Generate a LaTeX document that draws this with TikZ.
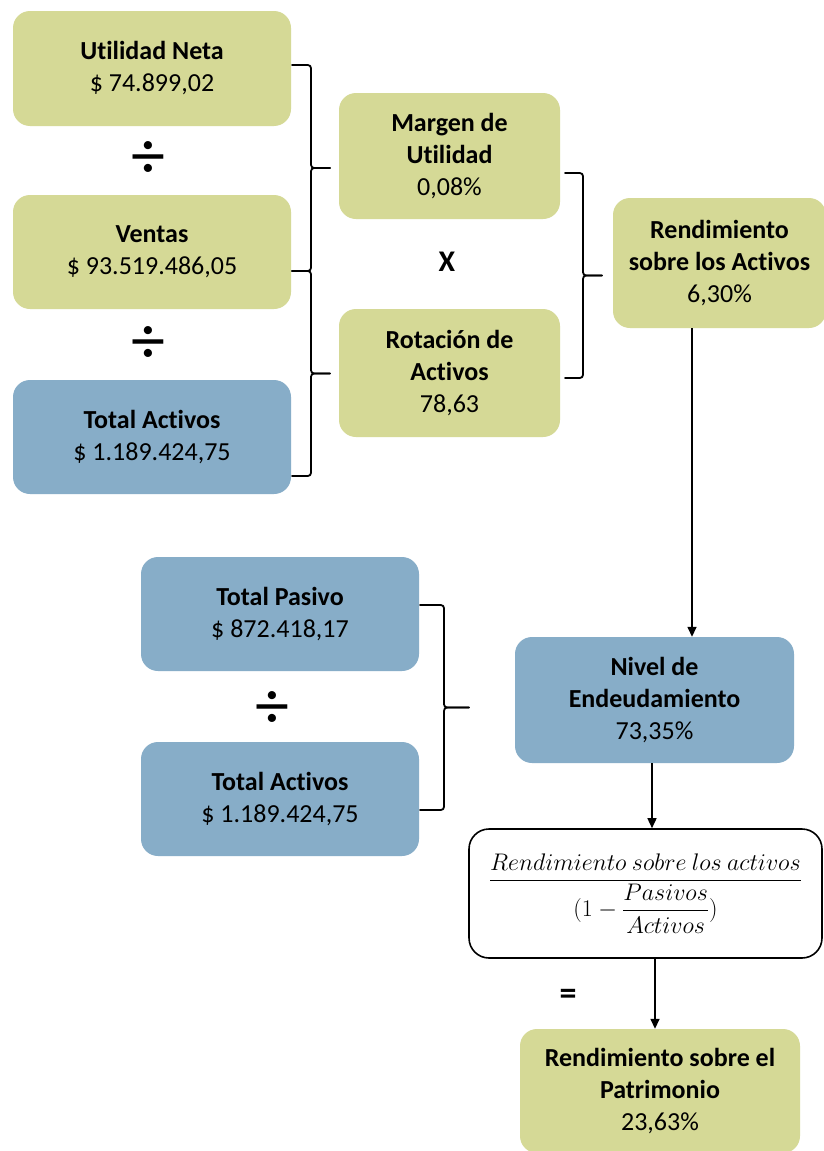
\documentclass[tikz,border=0pt]{standalone}
\usepackage{fix-cm}
\usepackage{amsmath,amssymb}
\usepackage[no-math]{fontspec}
\setmainfont{Carlito}[Ligatures=NoCommon]
\usetikzlibrary{arrows.meta, positioning, calc}
\definecolor{verdebox}{HTML}{D5D996}
\definecolor{azulbox}{HTML}{87ADC8}
\tikzset{
    dato box/.style={
        rounded corners=17pt,
        draw=none,
        align=center,
        inner sep=0pt,
        font=\fontsize{26}{32}\selectfont
    },
    verde box/.style={dato box, fill=verdebox},
    azul box/.style={dato box, fill=azulbox},
    formula box/.style={
        rounded corners=20pt,
        draw=black,
        line width=1.6pt,
        fill=white,
        inner sep=0pt,
        font=\fontsize{24}{29}\selectfont
    },
    llave/.style={
        line width=1.8pt,
        line cap=round,
        line join=round
    },
    flecha/.style={
        -{Triangle[length=10pt,width=9pt]},
        line width=1.5pt
    },
    operador/.style={
        font=\fontsize{34}{34}\selectfont\bfseries,
        inner sep=0pt
    }
}
% brace: x arm, x line, x tip, y top, y bottom
\newcommand{\llave}[5]{%
    \pgfmathsetmacro{\ymid}{(#4+#5)/2}
    \draw[llave] (#1,#4) -- (#2-7,#4) .. controls (#2,#4) .. (#2,#4+7)
        -- (#2,\ymid-7) .. controls (#2,\ymid) .. (#2+7,\ymid) -- (#3,\ymid);
    \draw[llave] (#3,\ymid) -- (#2+7,\ymid) .. controls (#2,\ymid) .. (#2,\ymid+7)
        -- (#2,#5-7) .. controls (#2,#5) .. (#2-7,#5) -- (#1,#5);
}

\begin{document}
\begin{tikzpicture}[x=1pt, y=-1pt]
                % Page frame (same proportions as the reference)
                \clip (0,0) rectangle (824,1151);
                \fill[white] (0,0) rectangle (824,1151);

                % Left column: data
                \node[verde box, minimum width=278pt, minimum height=115pt] (util) at (152, 68.5)
                    {\textbf{Utilidad Neta}\\\$ 74.899,02};
                \node[operador, font=\fontsize{68}{68}\selectfont] (div1) at (148, 160) {÷};
                \node[verde box, minimum width=278pt, minimum height=114pt] (ventas) at (152, 252)
                    {\textbf{Ventas}\\\$ 93.519.486,05};
                \node[operador, font=\fontsize{68}{68}\selectfont] (div2) at (148, 345) {÷};
                \node[azul box, minimum width=278pt, minimum height=114pt] (totact) at (152, 437)
                    {\textbf{Total Activos}\\\$ 1.189.424,75};

                % Middle column: ratios
                \node[verde box, minimum width=221pt, minimum height=126pt] (margen) at (449.5, 156)
                    {\textbf{Margen de}\\\textbf{Utilidad}\\0,08\%};
                \node[operador, font=\fontsize{30}{30}\selectfont\bfseries] (por) at (447, 262) {X};
                \node[verde box, minimum width=221pt, minimum height=128pt] (rotacion) at (449.5, 373)
                    {\textbf{Rotación de}\\\textbf{Activos}\\78,63};

                % Return on assets
                \node[verde box, minimum width=213pt, minimum height=130pt] (roa) at (719.5, 263)
                    {\textbf{Rendimiento}\\\textbf{sobre los Activos}\\6,30\%};

                % Debt ratio
                \node[azul box, minimum width=278pt, minimum height=114pt] (pasivo) at (280, 614)
                    {\textbf{Total Pasivo}\\\$ 872.418,17};
                \node[operador, font=\fontsize{68}{68}\selectfont] (div3) at (272, 710) {÷};
                \node[azul box, minimum width=278pt, minimum height=114pt] (totact2) at (280, 799)
                    {\textbf{Total Activos}\\\$ 1.189.424,75};
                \node[azul box, minimum width=279pt, minimum height=126pt] (nivel) at (654.5, 700)
                    {\textbf{Nivel de}\\\textbf{Endeudamiento}\\73,35\%};

                % Formula and result
                \node[formula box, minimum width=353pt, minimum height=129pt] (formula) at (645.5, 893.5)
                    {$\dfrac{Rendimiento\ sobre\ los\ activos}{(1-\dfrac{Pasivos}{Activos})}$};
                \node[operador, font=\fontsize{34}{34}\selectfont\bfseries] (igual) at (568, 997) {=};
                \node[verde box, minimum width=280pt, minimum height=124pt] (patri) at (660, 1091)
                    {\textbf{Rendimiento sobre el}\\\textbf{Patrimonio}\\23,63\%};

                % Braces
                \llave{292}{311}{330}{65}{271}
                \llave{292}{311}{330}{271}{476}
                \llave{565}{583}{602}{173}{378}
                \llave{420}{444}{469}{605}{810}

                % Arrows
                \coordinate (colroa) at (692, 0);
                \draw[flecha] (roa.south -| colroa) -- (nivel.north -| colroa);
                \draw[flecha] (nivel.south -| 652,0) -- (formula.north -| 652,0);
                \draw[flecha] (formula.south -| 655,0) -- (patri.north -| 655,0);
\end{tikzpicture}
\end{document}
